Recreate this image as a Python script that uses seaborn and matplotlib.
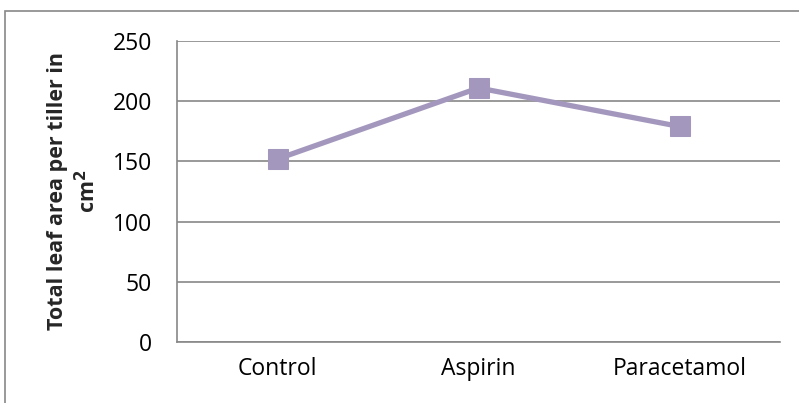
import matplotlib
matplotlib.use("Agg")
import matplotlib.pyplot as plt
import seaborn as sns
import pandas as pd
from matplotlib.patches import Rectangle

treatments = ["Control", "Aspirin", "Paracetamol"]
leaf_area = [152, 211, 179]
y_ticks = [0, 50, 100, 150, 200, 250]

df = pd.DataFrame({"Treatment": treatments, "Leaf area": leaf_area})

sns.set_theme(style="white")
plt.rcParams["font.family"] = ["Open Sans", "DejaVu Sans"]

fig = plt.figure(figsize=(7.99, 4.03), dpi=100)
ax = fig.add_axes([177 / 799, 1 - 342 / 403, (780 - 177) / 799, (342 - 41) / 403])

line_color = "#A497BD"
sns.lineplot(data=df, x="Treatment", y="Leaf area", ax=ax, color=line_color,
             linewidth=3.8, marker="s", markersize=14, markeredgecolor=line_color,
             sort=False, zorder=3)

ax.set_xlim(-0.5, 2.5)
ax.set_ylim(0, 250)
ax.set_yticks(y_ticks)
ax.set_yticklabels([str(t) for t in y_ticks])
ax.yaxis.grid(True, color="#888888", linewidth=1.2)
ax.xaxis.grid(False)
for side in ["top", "right"]:
    ax.spines[side].set_visible(False)
for side in ["left", "bottom"]:
    ax.spines[side].set_color("#888888")
    ax.spines[side].set_linewidth(1.2)
ax.tick_params(axis="both", length=0, labelsize=16.5, colors="black")
ax.tick_params(axis="y", pad=18)
ax.tick_params(axis="x", pad=11)
ax.set_xlabel("")
ax.set_ylabel("Total leaf area per tiller in\ncm$^\\mathbf{2}$", fontsize=15.5,
              fontweight="bold", linespacing=1.35)
ax.yaxis.set_label_coords(-0.127, 0.5)

# chart frame
fig.patches.append(Rectangle((5 / 799, -0.1), 1.2, 1 - 11 / 403 + 0.1,
                             transform=fig.transFigure, fill=False,
                             edgecolor="#888888", linewidth=1.2))

fig.savefig("out.png", dpi=100)
